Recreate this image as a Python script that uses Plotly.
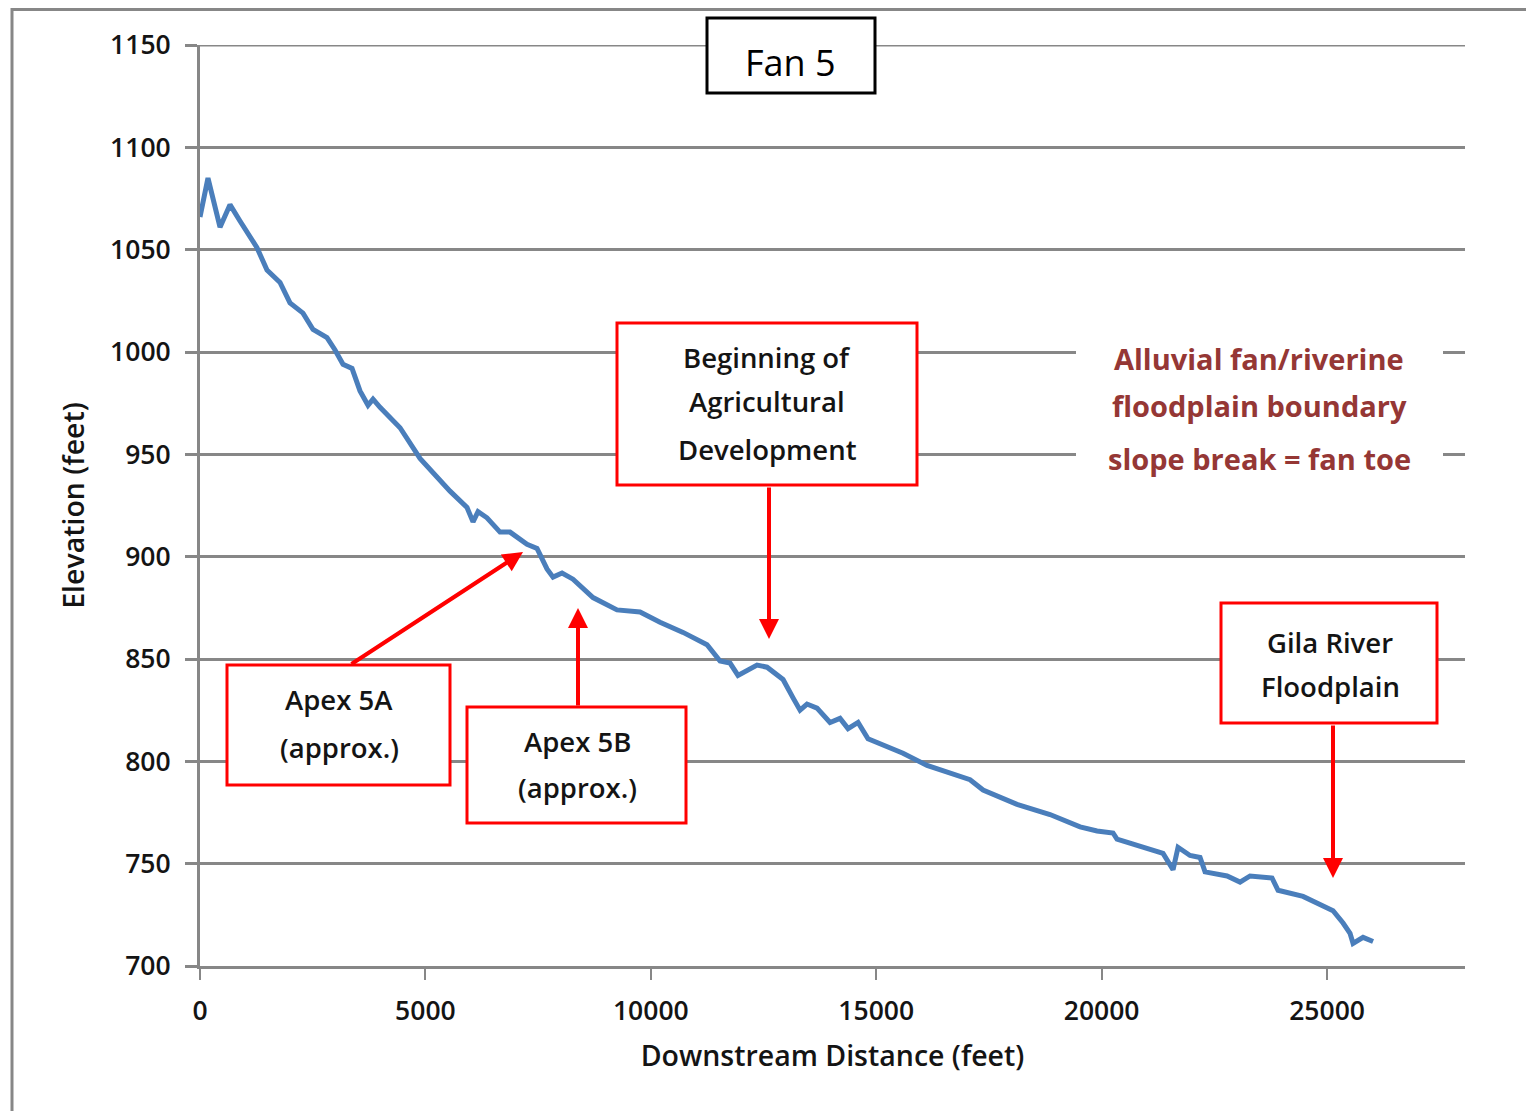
import plotly.graph_objects as go

# ---- data ----
dist_ft = [0, 177, 444, 665, 887, 1264, 1486, 1775, 1996, 2285, 2507, 2817, 2995, 3172, 3372,
           3549, 3727, 3838, 3993, 4215, 4437, 4880, 5546, 5923, 6056, 6167, 6366, 6655, 6877,
           7254, 7476, 7697, 7831, 8031, 8274, 8718, 9250, 9761, 10204, 10715, 11247, 11535,
           11757, 11934, 12201, 12356, 12578, 12933, 13155, 13310, 13465, 13687, 13975, 14197,
           14375, 14597, 14818, 15594, 16127, 17081, 17370, 18123, 18855, 19521, 19898, 20253,
           20341, 21362, 21584, 21695, 21961, 22183, 22294, 22782, 23070, 23292, 23780, 23913,
           24468, 25133, 25355, 25510, 25577, 25799, 26021]
elev_ft = [1066, 1085, 1061, 1072, 1064, 1051, 1040, 1034, 1024, 1019, 1011, 1007, 1001, 994, 992,
           981, 974, 977, 973, 968, 963, 948, 932, 924, 917, 922, 919, 912, 912,
           906, 904, 894, 890, 892, 889, 880, 874, 873, 868, 863, 857, 849,
           848, 842, 845, 847, 846, 840, 831, 825, 828, 826, 819, 821,
           816, 819, 811, 804, 798, 791, 786, 779, 774, 768, 766, 765,
           762, 755, 747, 758, 754, 753, 746, 744, 741, 744, 743, 737,
           734, 727, 721, 716, 711, 714, 712]

x_ticks = [0, 5000, 10000, 15000, 20000, 25000]
y_ticks = [700, 750, 800, 850, 900, 950, 1000, 1050, 1100, 1150]

title_text = "Fan 5"
x_title = "Downstream Distance (feet)"
y_title = "Elevation (feet)"
callout_lines = [["Beginning of", "Agricultural", "Development"],
                 ["Apex 5A", "(approx.)"],
                 ["Apex 5B", "(approx.)"],
                 ["Gila River", "Floodplain"]]
note_lines = ["Alluvial fan/riverine", "floodplain boundary", "slope break = fan toe"]

# ---- layout geometry (reference-image pixels; page has an 8px body margin) ----
OFF = 8
W, H = 1534 - OFF, 1111 - OFF
L, R, T, B = 200, 1465, 45, 966
PW, PH = R - L, B - T


def px(xp):
    return (xp - L) / PW


def py(yp):
    return (B - yp) / PH


FONT = "Open Sans"
GRID = "#878787"
RED = "#ff0000"
TXT = "#141414"

fig = go.Figure()
fig.add_trace(go.Scatter(x=dist_ft, y=elev_ft, mode="lines",
                         line=dict(color="#4a7ebb", width=5), showlegend=False,
                         hoverinfo="skip"))

shapes = []
annotations = []

# outer frame
shapes.append(dict(type="rect", xref="paper", yref="paper",
                   x0=px(12), x1=px(1545), y0=py(1125), y1=py(9.5),
                   line=dict(color=GRID, width=3), layer="below"))
# top gridline (at range edge)
shapes.append(dict(type="line", xref="paper", yref="y", x0=px(188), x1=1,
                   y0=y_ticks[-1], y1=y_ticks[-1], line=dict(color=GRID, width=3), layer="below"))

# title box
shapes.append(dict(type="rect", xref="paper", yref="paper",
                   x0=px(707), x1=px(875), y0=py(93), y1=py(18),
                   line=dict(color="#000000", width=3), fillcolor="white", layer="above"))
annotations.append(dict(xref="paper", yref="paper", x=px(790), y=py(62), text=title_text,
                        showarrow=False, font=dict(family=FONT, size=36, color="#000000"),
                        xanchor="center", yanchor="middle"))

# note white background + text
shapes.append(dict(type="rect", xref="paper", yref="paper",
                   x0=px(1076), x1=px(1443), y0=py(482), y1=py(332),
                   line=dict(width=0), fillcolor="white", layer="above"))
for ln, yc in zip(note_lines, [358, 406, 458]):
    annotations.append(dict(xref="paper", yref="paper", x=px(1259), y=py(yc), text=ln,
                            showarrow=False,
                            font=dict(family=FONT, size=29, color="#953735", weight="bold"),
                            xanchor="center", yanchor="middle"))

# callout boxes: (x0, x1, y0, y1, text center x, line center ys)
boxes = [(617, 917, 323, 485, 767, [357, 402, 449]),
         (227, 450, 665, 785, 339, [699, 747]),
         (467, 686, 707, 823, 577, [741, 787]),
         (1221, 1437, 603, 723, 1330, [642, 686])]
for (x0, x1, y0, y1, cx, ys), lines in zip(boxes, callout_lines):
    shapes.append(dict(type="rect", xref="paper", yref="paper",
                       x0=px(x0), x1=px(x1), y0=py(y1), y1=py(y0),
                       line=dict(color=RED, width=3), fillcolor="white", layer="above"))
    for ln, yc in zip(lines, ys):
        annotations.append(dict(xref="paper", yref="paper", x=px(cx), y=py(yc), text=ln,
                                showarrow=False,
                                font=dict(family=FONT, size=27.5, color=TXT, weight=600),
                                xanchor="center", yanchor="middle"))

# arrows: (tip x, tip y, tail x, tail y) in reference pixels
arrows = [(769, 639, 769, 486),
          (523, 552, 350, 665),
          (578, 608, 578, 707),
          (1333, 878, 1333, 724)]
for tx, ty, sx, sy in arrows:
    annotations.append(dict(xref="paper", yref="paper", x=px(tx), y=py(ty),
                            ax=sx - tx, ay=sy - ty, axref="pixel", ayref="pixel",
                            text="", showarrow=True, arrowhead=2, arrowsize=1.0,
                            arrowwidth=4, arrowcolor=RED, standoff=0, startstandoff=0))

fig.update_layout(
    width=W, height=H,
    margin=dict(l=L - OFF, r=1534 - R, t=T - OFF, b=1111 - B, autoexpand=False),
    paper_bgcolor="white", plot_bgcolor="white",
    shapes=shapes, annotations=annotations,
    font=dict(family=FONT, size=26, color=TXT),
)
tickfont = dict(family=FONT, size=26.5, color=TXT, weight=600)
titlefont = dict(family=FONT, size=28.5, color=TXT, weight=600)
fig.update_xaxes(range=[0, 28060], tickvals=x_ticks, ticktext=[str(v) for v in x_ticks],
                 showgrid=False, zeroline=False, showline=True, linecolor=GRID, linewidth=3,
                 ticks="outside", ticklen=11, tickwidth=2, tickcolor=GRID,
                 ticklabelstandoff=8, tickfont=tickfont,
                 title=dict(text=x_title, font=titlefont, standoff=20))
fig.update_yaxes(range=[700, 1150], tickvals=y_ticks, ticktext=[str(v) for v in y_ticks],
                 showgrid=True, gridcolor=GRID, gridwidth=3, zeroline=False,
                 showline=True, linecolor=GRID, linewidth=3,
                 ticks="outside", ticklen=12, tickwidth=3, tickcolor=GRID,
                 ticklabelstandoff=9, tickfont=tickfont,
                 title=dict(text=y_title, font=titlefont, standoff=18))

fig.write_html("out.html")
